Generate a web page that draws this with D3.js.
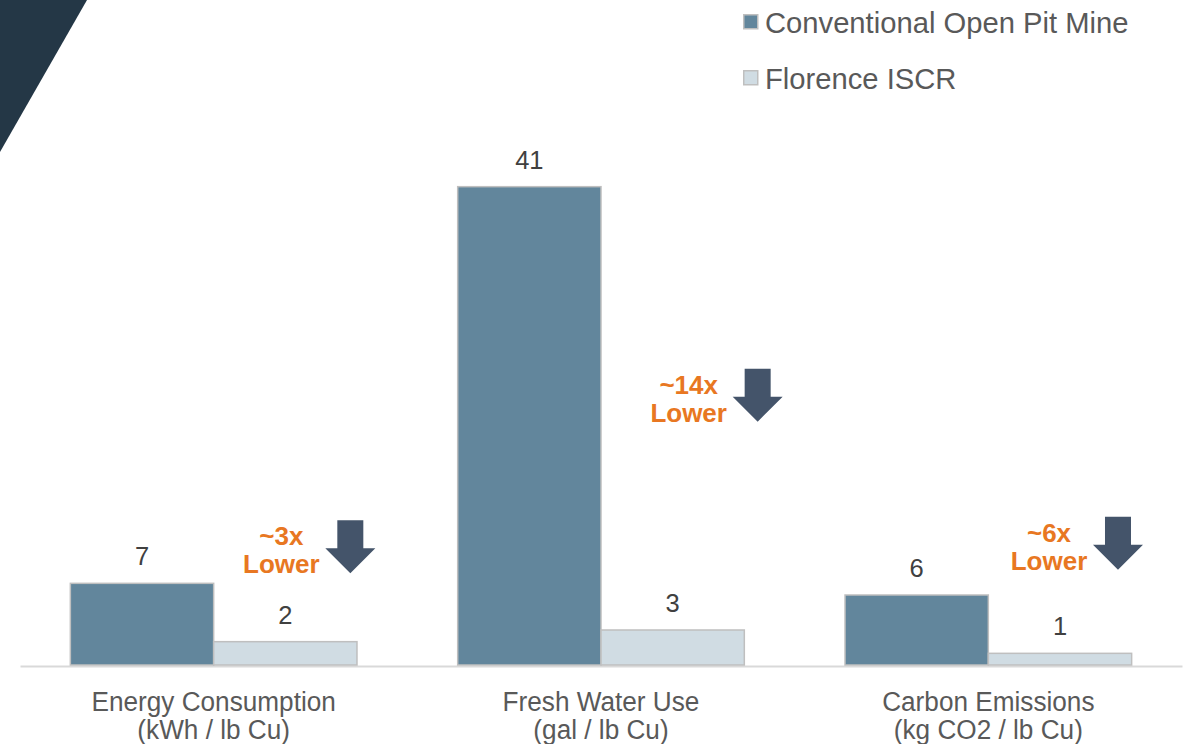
<!DOCTYPE html>
<html>
<head>
<meta charset="utf-8">
<script src="https://cdn.jsdelivr.net/npm/d3@7"></script>
<style>
  html, body { margin: 0; padding: 0; background: #ffffff; }
  svg { display: block; font-family: Arial, "Liberation Sans", sans-serif; }
</style>
</head>
<body>
<svg id="chart" width="1185" height="744"></svg>
<script>
// ---- data ----
const categories = ["Energy Consumption", "Fresh Water Use", "Carbon Emissions"];
const units = ["(kWh / lb Cu)", "(gal / lb Cu)", "(kg CO2 / lb Cu)"];
const seriesNames = ["Conventional Open Pit Mine", "Florence ISCR"];
const conventionalValues = [7, 41, 6];
const florenceValues = [2, 3, 1];
const ratioLabels = ["~3x", "~14x", "~6x"];

// ---- layout & style ----
const W = 1185, H = 744;
const colors = ["#62869C", "#D0DCE3"];
const barStroke = "#BFBFBF";
// annotation placement: horizontal offset from the group's right bar centre, and level in data units
const annoLayout = [
  { dx: -4, level: 12.4 },
  { dx: 16, level: 25.4 },
  { dx: -11, level: 12.7 }
];

const svg = d3.select("#chart");

// corner banner
svg.append("path")
  .attr("d", "M0,0 L87,0 L0,152 Z")
  .attr("fill", "#243746");

const x0 = d3.scaleBand()
  .domain(categories)
  .range([20, 1182])
  .paddingInner(0.26)
  .paddingOuter(0.13);

const x1 = d3.scaleBand()
  .domain(seriesNames)
  .range([0, x0.bandwidth()])
  .padding(0);

const y = d3.scaleLinear().domain([0, 45]).range([665, 140]);

const rows = categories.map((c, i) => ({
  category: c,
  unit: units[i],
  values: [conventionalValues[i], florenceValues[i]],
  ratio: ratioLabels[i],
  anno: annoLayout[i]
}));

// baseline
const xAxis = d3.axisBottom(x0).tickSize(0).tickFormat("");
const axisG = svg.append("g")
  .attr("transform", `translate(0,${y(0) + 1})`)
  .call(xAxis);
axisG.select(".domain").attr("stroke", "#D9D9D9").attr("stroke-width", 2);

// bars
const groups = svg.append("g").selectAll("g")
  .data(rows)
  .join("g")
  .attr("transform", d => `translate(${x0(d.category)},0)`);

groups.selectAll("rect")
  .data(d => d.values.map((v, j) => ({ series: seriesNames[j], value: v, j })))
  .join("rect")
  .attr("x", d => x1(d.series))
  .attr("y", d => y(d.value))
  .attr("width", x1.bandwidth())
  .attr("height", d => y(0) - y(d.value))
  .attr("fill", d => colors[d.j])
  .attr("stroke", barStroke)
  .attr("stroke-width", 1.5);

// value labels
groups.selectAll("text.val")
  .data(d => d.values.map((v, j) => ({ series: seriesNames[j], value: v })))
  .join("text")
  .attr("class", "val")
  .attr("x", d => x1(d.series) + x1.bandwidth() / 2)
  .attr("y", d => y(d.value) - 18)
  .attr("text-anchor", "middle")
  .attr("font-size", 25.5)
  .attr("fill", "#404040")
  .text(d => d.value);

// category labels (two lines, slightly condensed)
const catLabels = svg.append("g").selectAll("g")
  .data(rows)
  .join("g")
  .attr("transform", d => `translate(${x0(d.category) + x0.bandwidth() / 2},0) scale(0.97,1)`);
catLabels.append("text")
  .attr("y", 711)
  .attr("text-anchor", "middle")
  .attr("font-size", 27)
  .attr("fill", "#595959")
  .text(d => d.category);
catLabels.append("text")
  .attr("y", 739)
  .attr("text-anchor", "middle")
  .attr("font-size", 27)
  .attr("fill", "#595959")
  .text(d => d.unit);

// reduction annotations
const annos = svg.append("g").selectAll("g")
  .data(rows)
  .join("g")
  .attr("transform", d => {
    const cx = x0(d.category) + x1(seriesNames[1]) + x1.bandwidth() / 2 + d.anno.dx;
    return `translate(${cx},${y(d.anno.level)})`;
  });

annos.append("text")
  .attr("x", 0)
  .attr("y", 25)
  .attr("text-anchor", "middle")
  .attr("font-size", 26)
  .attr("font-weight", "bold")
  .attr("fill", "#E87722")
  .text(d => d.ratio);
annos.append("text")
  .attr("x", 0)
  .attr("y", 53)
  .attr("text-anchor", "middle")
  .attr("font-size", 26)
  .attr("font-weight", "bold")
  .attr("fill", "#E87722")
  .text("Lower");

// down arrow to the right of each annotation
annos.append("path")
  .attr("d", "M56,0 L82,0 L82,28 L94,28 L69,53 L44,28 L56,28 Z")
  .attr("fill", "#44546A");

// legend
const legend = svg.append("g").selectAll("g")
  .data(seriesNames)
  .join("g")
  .attr("transform", (d, i) => `translate(743,${14 + i * 56})`);
legend.append("rect")
  .attr("x", 0.75)
  .attr("y", 0.75)
  .attr("width", 14)
  .attr("height", 14)
  .attr("fill", (d, i) => colors[i])
  .attr("stroke", barStroke)
  .attr("stroke-width", 1.5);
legend.append("text")
  .attr("x", 22)
  .attr("y", 18.5)
  .attr("font-size", 29.2)
  .attr("fill", "#595959")
  .text(d => d);
</script>
</body>
</html>
